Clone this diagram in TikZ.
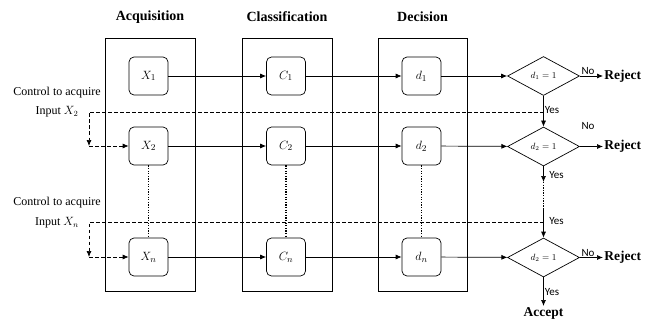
\documentclass[tikz,border=0pt]{standalone}
\usepackage{fontspec}
\setmainfont{Liberation Serif}
\newfontfamily\lblfont{Carlito}
\usetikzlibrary{arrows.meta,shapes.geometric}
\begin{document}
\begin{tikzpicture}[x=1pt,y=-1pt,line width=0.7pt,
  colbox/.style={draw,minimum height=253pt,inner sep=0pt},
  title/.style={font=\fontsize{14}{16}\selectfont\bfseries},
  unit/.style={draw,rounded corners=5pt,minimum width=39pt,minimum height=38pt,inner sep=0pt,font=\fontsize{13}{14}\selectfont},
  dec/.style={draw,diamond,aspect=1.85,minimum width=72pt,minimum height=39pt,inner sep=0pt,font=\fontsize{9}{10}\selectfont},
  flow/.style={-{Latex[length=6pt,width=5pt]}},
  ctrl/.style={dash pattern=on 3.5pt off 2.5pt},
  ctrlarrow/.style={ctrl,-{Latex[length=6pt,width=5pt]}},
  dots/.style={dash pattern=on 1.3pt off 1.3pt,line width=1.3pt},
  lbl/.style={font=\lblfont\fontsize{11}{12}\selectfont,inner sep=1pt},
  ctext/.style={font=\fontsize{12}{13}\selectfont,inner sep=0pt},
  result/.style={font=\fontsize{13.5}{15}\selectfont\bfseries,inner sep=1pt}
]
\useasboundingbox (0,0) rectangle (650,326);

% column boxes and titles
\node[colbox,minimum width=90pt] (acqbox) at (150,164.5) {};
\node[colbox,minimum width=90pt] (clsbox) at (287,164.5) {};
\node[colbox,minimum width=89pt] (decbox) at (422.5,164.5) {};
\node[title] (tacq) at (150,17) {Acquisition};
\node[title] (tcls) at (287,17) {Classification};
\node[title] (tdec) at (422.5,17) {Decision};

% units
\node[unit] (X1) at (148.5,76) {$X_1$};
\node[unit] (X2) at (148.5,146) {$X_2$};
\node[unit] (Xn) at (148.5,257) {$X_n$};
\node[unit] (C1) at (286,76) {$C_1$};
\node[unit] (C2) at (286,146) {$C_2$};
\node[unit] (Cn) at (286,257) {$C_n$};
\node[unit] (d1) at (421.5,76) {$d_1$};
\node[unit] (d2) at (421.5,146) {$d_2$};
\node[unit] (dn) at (421.5,257) {$d_n$};

% decisions
\node[dec] (D1) at (543.5,76) {$d_1=1$};
\node[dec] (D2) at (543.5,146.5) {$d_2=1$};
\node[dec] (Dn) at (543.5,257.5) {$d_2=1$};

% outputs
\node[result,anchor=west] (R1) at (603,76) {Reject};
\node[result,anchor=west] (R2) at (603,146.5) {Reject};
\node[result,anchor=west] (Rn) at (603,257.5) {Reject};
\node[result,anchor=north] (acc) at (543.5,306) {Accept};

% row flows
\draw[flow] (X1) -- (C1);
\draw[flow] (C1) -- (d1);
\draw[flow] (d1) -- (D1);
\draw[flow] (X2) -- (C2);
\draw[flow] (C2) -- (d2);
\draw[flow] (d2) -- (D2);
\draw[flow] (Xn) -- (Cn);
\draw[flow] (Cn) -- (dn);
\draw[flow] (dn) -- (Dn);

% reject arrows
\draw[flow] (D1) -- node[lbl,above,pos=0.35] (no1) {No} (R1);
\draw[flow] (D2) -- (R2);
\node[lbl] (no2) at (588,126) {No};
\draw[flow] (Dn) -- node[lbl,above,pos=0.35] (non) {No} (Rn);

% yes chain
\coordinate (c1) at (543.5,112);
\coordinate (y2) at (543.5,182);
\coordinate (y3) at (543.5,208);
\coordinate (c2) at (543.5,222);
\draw[flow] (D1) -- node[lbl,right,pos=0.45] (yes1) {Yes} (D2);
\draw[flow] (D2) -- (y2);
\node[lbl,anchor=west] (yes2) at (548,175) {Yes};
\draw[dots] (y2) -- (y3);
\draw[flow] (y3) -- (Dn);
\node[lbl,anchor=west] (yes3) at (548,221) {Yes};
\draw[flow] (Dn) -- node[lbl,right] (yes4) {Yes} (acc);

% dotted verticals
\draw[dots] (X2) -- (Xn);
\draw[dots] (C2) -- (Cn);
\draw[dots] (d2) -- (dn);

% control paths
\coordinate (k1) at (89,146);
\coordinate (k2) at (89,257);
\draw[ctrlarrow] (c1) -| (k1);
\draw[ctrlarrow] (k1) -- (X2);
\draw[ctrlarrow] (c2) -| (k2);
\draw[ctrlarrow] (k2) -- (Xn);

% control labels
\node[ctext] (l1a) at (57,93) {Control to acquire};
\node[ctext] (l1b) at (57,112) {Input $X_2$};
\node[ctext] (l2a) at (57,203) {Control to acquire};
\node[ctext] (l2b) at (57,223) {Input $X_n$};
\end{tikzpicture}
\end{document}
